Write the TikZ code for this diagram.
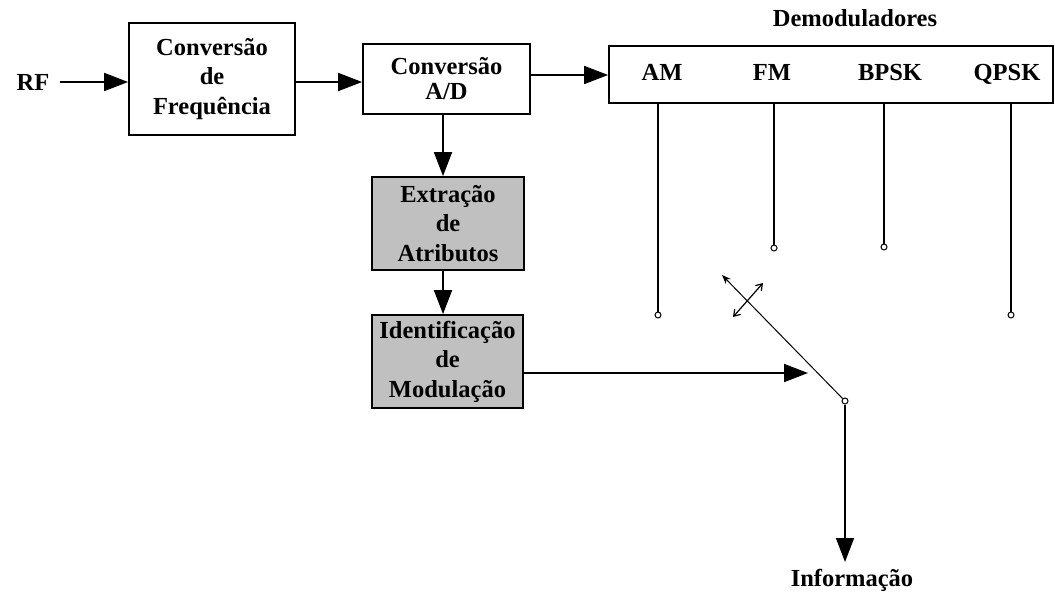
\documentclass[tikz,border=0pt]{standalone}
\usepackage{fontspec}
\setmainfont{Liberation Serif}
\usetikzlibrary{arrows.meta,calc}
\definecolor{boxgray}{RGB}{192,192,192}
\begin{document}
\begin{tikzpicture}[x=1pt,y=-1pt,
  lbl/.style={font=\bfseries\fontsize{24.5}{29.5}\selectfont,inner sep=0pt},
  modlbl/.style={lbl,anchor=base},
  block/.style={lbl,draw,line width=1.8pt,align=center},
  shaded/.style={block,fill=boxgray},
  flow/.style={line width=1.8pt,-{Triangle[length=24pt,width=18pt]}},
  drop/.style={line width=1.5pt},
  term/.style={circle,draw,line width=1pt,fill=white,inner sep=0pt,minimum size=6pt},
  lever/.style={line width=1pt}
]
\useasboundingbox (0,0) rectangle (1055,592);

% processing chain
\node[lbl] (rf) at (33,82) {RF};
\node[block,minimum width=166pt,minimum height=112pt] (freq) at (212,79)
  {Convers\~ao\\de\\Frequ\^encia};
\node[block,minimum width=167pt,minimum height=70pt,
      font=\bfseries\fontsize{24.5}{25}\selectfont] (ad) at (446.5,79)
  {Convers\~ao\\A/D};
\node[shaded,minimum width=152pt,minimum height=93pt] (attr) at (448,223.5)
  {Extra\c{c}\~ao\\de\\Atributos};
\node[shaded,minimum width=151pt,minimum height=93pt] (ident) at (447.5,361.5)
  {Identifica\c{c}\~ao\\de\\Modula\c{c}\~ao};
\coordinate (spine) at (443,0);

% demodulator bank
\node[lbl] (demtitle) at (855,18) {Demoduladores};
\node[draw,line width=1.8pt,minimum width=444pt,minimum height=57pt,inner sep=0pt]
  (demod) at (831,74.5) {};
\node[modlbl] (am) at (662,80) {AM};
\node[modlbl] (fm) at (772,80) {FM};
\node[modlbl] (bpsk) at (890,80) {BPSK};
\node[modlbl] (qpsk) at (1007,80) {QPSK};

% demodulator outputs
\node[term] (tam) at (658,315) {};
\node[term] (tfm) at (774,248) {};
\node[term] (tbpsk) at (884,247) {};
\node[term] (tqpsk) at (1011,315) {};
\draw[drop] (tam |- demod.south) -- (tam);
\draw[drop] (tfm |- demod.south) -- (tfm);
\draw[drop] (tbpsk |- demod.south) -- (tbpsk);
\draw[drop] (tqpsk |- demod.south) -- (tqpsk);

% selector switch
\node[term] (pivot) at (845,401) {};
\coordinate (leverend) at (722,275);
\coordinate (rotA) at (733,317);
\coordinate (rotB) at (763,283);
\coordinate (ctrl) at (808,373);
\draw[lever,-{Stealth[length=9pt,width=7pt]}] (pivot) -- (leverend);
\draw[lever,line width=1.2pt,{Straight Barb[length=6pt,width=8pt]}-{Straight Barb[length=6pt,width=8pt]}] (rotA) -- (rotB);

% output
\node[lbl] (info) at (852,580) {Informa\c{c}\~ao};
\coordinate (infotip) at (845,562);

% connectors
\draw[flow] ($(rf.east)+(10,0)$) -- (rf.east -| freq.west);
\draw[flow] (freq.east |- 0,82) -- (ad.west |- 0,82);
\draw[flow] (ad.east |- 0,75) -- (demod.west |- 0,75);
\draw[flow] (spine |- ad.south) -- (spine |- attr.north);
\draw[flow] (spine |- attr.south) -- (spine |- ident.north);
\draw[flow] (ident.east |- ctrl) -- (ctrl);
\draw[flow,line width=1.5pt] (pivot) -- (infotip);
\end{tikzpicture}
\end{document}
